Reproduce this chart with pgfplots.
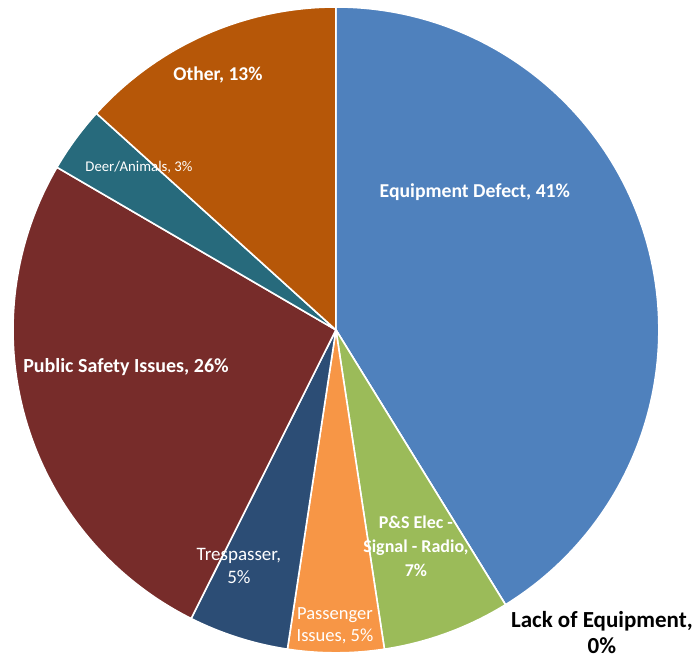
\documentclass[border=0pt]{standalone}
\usepackage{pgfplots}
\pgfplotsset{compat=1.18}
\usepackage{pgfplotstable}
\usepackage{fontspec}
\setmainfont{Carlito}
\definecolor{slice0}{HTML}{4F81BD}
\definecolor{slice1}{HTML}{C0504D}
\definecolor{slice2}{HTML}{9BBB59}
\definecolor{slice3}{HTML}{F79646}
\definecolor{slice4}{HTML}{2C4D75}
\definecolor{slice5}{HTML}{772C2A}
\definecolor{slice6}{HTML}{276A7C}
\definecolor{slice7}{HTML}{B65708}
\pgfplotstableread[col sep=comma]{
label,value
Equipment Defect,41.2
Lack of Equipment,0
P&S Elec - Signal - Radio,6.4
Passenger Issues,4.8
Trespasser,5.0
Public Safety Issues,26.0
Deer/Animals,3.3
Other,13.3
}\piedata
\begin{document}
\begin{tikzpicture}
\begin{axis}[
  x=1pt, y=1pt,
  xmin=-336, xmax=360, ymin=-331, ymax=330,
  hide axis, clip=false,
]
\path (axis cs:-336,-331) rectangle (axis cs:360,330);
\pgfmathsetmacro{\cum}{90}
\pgfplotsforeachungrouped \i in {0,...,7}{
  \pgfplotstablegetelem{\i}{value}\of\piedata
  \pgfmathsetmacro{\endang}{\cum - 3.6*\pgfplotsretval}
  \pgfmathsetmacro{\sx}{323*cos(\cum)}
  \pgfmathsetmacro{\sy}{323*sin(\cum)}
  \edef\temp{\noexpand\filldraw[fill=slice\i, draw=white, line width=1.6pt, line join=round]
    (axis cs:0,0) -- (axis cs:\sx,\sy) arc[start angle=\cum, end angle=\endang, radius=323pt] -- cycle;}
  \temp
  \global\let\cum\endang
}
\node[text=white, font=\fontsize{19.5}{22}\selectfont\bfseries] at (axis cs:-118,255) {Other, 13\%};
\node[text=white, font=\fontsize{14.8}{17}\selectfont] at (axis cs:-197,163) {Deer/Animals, 3\%};
\node[text=white, font=\fontsize{19.7}{22}\selectfont\bfseries] at (axis cs:139,138) {Equipment Defect, 41\%};
\node[text=white, font=\fontsize{20}{22}\selectfont\bfseries] at (axis cs:-210,-37) {Public Safety Issues, 26\%};
\node[text=white, align=center, font=\fontsize{19}{23}\selectfont] at (axis cs:-97,-236) {Trespasser,\\5\%};
\node[text=white, align=center, font=\fontsize{18}{24}\selectfont\bfseries] at (axis cs:80,-216) {P\&S Elec -\\Signal - Radio,\\7\%};
\node[text=white, align=center, font=\fontsize{18.5}{22}\selectfont] at (axis cs:-1,-296) {Passenger\\Issues, 5\%};
\node[text=black, align=center, font=\fontsize{23}{26}\selectfont\bfseries] at (axis cs:266,-303) {Lack of Equipment,\\0\%};
\end{axis}
\end{tikzpicture}
\end{document}
